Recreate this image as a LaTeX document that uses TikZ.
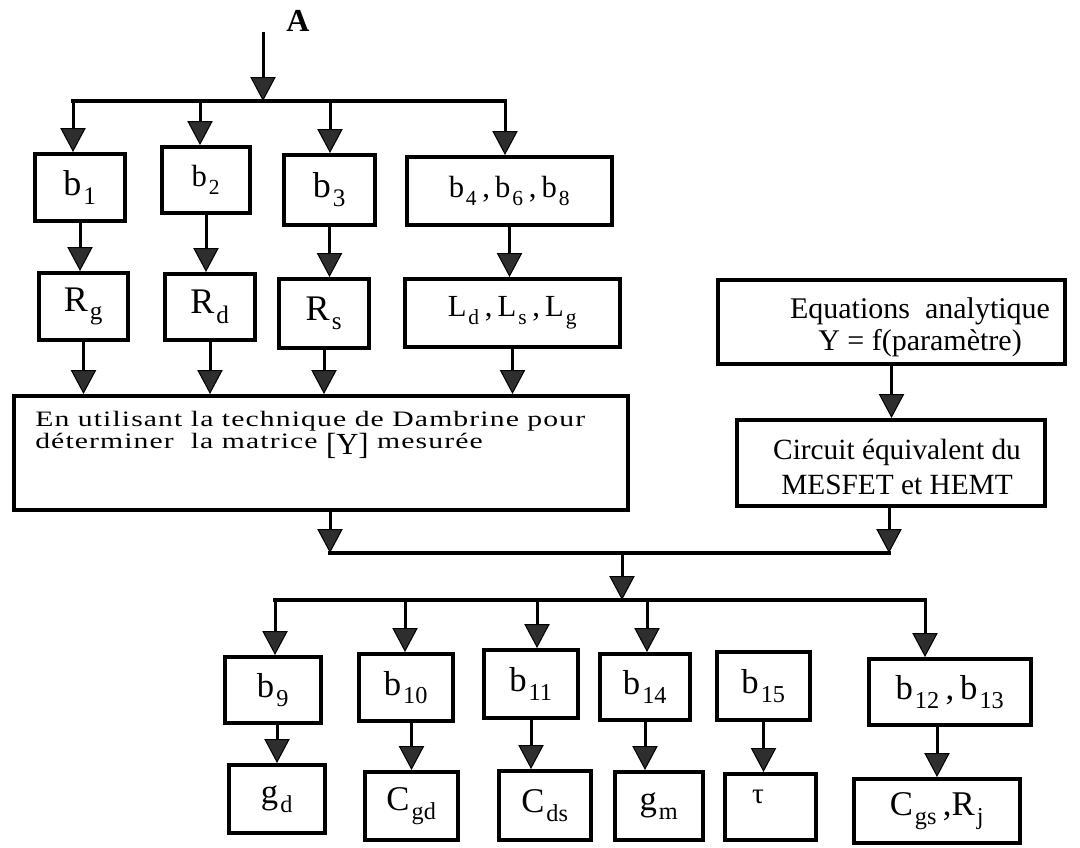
\documentclass[tikz,border=0pt]{standalone}
\usepackage{fontspec}
\setmainfont{Liberation Serif}
\newfontfamily\widefont[FakeStretch=1.35,LetterSpace=5]{Liberation Serif}
\usetikzlibrary{arrows.meta}
\newcommand\sbt[1]{\kern0.06em\raisebox{-0.1em}{\textsubscript{#1}}}
\begin{document}
\begin{tikzpicture}[x=0.75pt,y=-0.75pt,
  box/.style 2 args={draw, line width=3pt, minimum width=#1*0.75pt, minimum height=#2*0.75pt, inner sep=0pt, font=\fontsize{26}{30}\selectfont},
  arr/.style={line width=2.25pt, -{Triangle[length=18pt,width=19pt,fill=black!82,line width=0.8pt]}},
  bus/.style={line width=2.5pt, line cap=rect},
  mid/.style={font=\fontsize{23}{28}\selectfont},
  big/.style={font=\fontsize{27}{30}\selectfont}
]
\useasboundingbox (0,0) rectangle (1080,847);
\fill[white] (0,0) rectangle (1080,847);

% ---------- top row ----------
\node[font=\bfseries\fontsize{24}{24}\selectfont, inner sep=0pt] (lblA) at (298,21) {A};

\node[box={90}{67}, big] (b1) at (80,187.5) {b\sbt{1}};
\node[box={88}{66}, font=\fontsize{23}{28}\selectfont] (b2) at (206,180) {\raisebox{4pt}{b\sbt{2}}};
\node[box={91}{70}, big] (b3) at (329.5,190) {b\sbt{3}};
\node[box={205}{68}, mid] (b468) at (509.5,191) {b\sbt{4}\,,\,b\sbt{6}\,,\,b\sbt{8}};

\node[box={89}{67}, big] (Rg) at (83.5,306.5) {R\sbt{g}};
\node[box={90}{66}, big] (Rd) at (210,307) {R\sbt{d}};
\node[box={90}{69}, big] (Rs) at (324,313.5) {R\sbt{s}};
\node[box={215}{68}, mid] (Lx) at (512.5,313) {L\sbt{d}\,,\,L\sbt{s}\,,\,L\sbt{g}};

\node[box={614}{114}] (bigbox) at (321,453) {};
\node[anchor=north west, inner sep=0pt, align=left, font=\widefont\fontsize{16.5}{16.5}\selectfont] (bigtxt) at (35,411)
  {En utilisant la technique de Dambrine pour\\
   déterminer\ \ la matrice \raisebox{-4.5pt}{\normalfont\fontsize{23}{23}\selectfont[Y]} mesurée};

\node[box={347}{84}] (eq) at (891.5,322) {};
\node[align=center, inner sep=0pt, font=\fontsize{22.5}{24}\selectfont] (eqtxt) at (920,327)
  {Equations\ \ analytique\\ Y = f(paramètre)};
\node[box={308}{86}] (circ) at (891,463) {};
\node[align=center, inner sep=0pt, font=\fontsize{22}{26}\selectfont] (circtxt) at (897,467)
  {Circuit équivalent du\\ MESFET et HEMT};

% ---------- bottom rows ----------
\node[box={96}{66}] (b9) at (273,690) {b\sbt{9}};
\node[box={94}{67}] (b10) at (406,687.5) {b\sbt{10}};
\node[box={94}{68}] (b11) at (531,684) {b\sbt{11}};
\node[box={90}{66}] (b14) at (645,687) {b\sbt{14}};
\node[box={93}{68}] (b15) at (763.5,686) {b\sbt{15}};
\node[box={162}{66}] (b1213) at (950,692) {b\sbt{12}\,,\,b\sbt{13}};

\node[box={96}{68}] (gd) at (277,799) {g\sbt{d}};
\node[box={93}{68}] (Cgd) at (411.5,806) {C\sbt{gd}};
\node[box={92}{69}] (Cds) at (545,805.5) {C\sbt{ds}};
\node[box={88}{68}] (gm) at (659,806) {g\sbt{m}};
\node[box={91}{66}] (tau) at (770.5,807) {};
\node[inner sep=0pt, font=\fontsize{22}{22}\selectfont] (tautxt) at (758,797) {τ};
\node[box={166}{64}] (CR) at (937,811) {C\sbt{gs}\,,R\sbt{j}};

% ---------- connectors: top ----------
\coordinate (Atop) at (263,32);
\coordinate (Abus) at (263,101);
\coordinate (t1) at (73,101);
\coordinate (t2) at (200,101);
\coordinate (t3) at (330,101);
\coordinate (t4) at (505,101);
\draw[bus] (t1) -- (t4);
\draw[arr] (Atop) -- (Abus);
\draw[arr] (t1) -- (t1 |- b1.north);
\draw[arr] (t2) -- (t2 |- b2.north);
\draw[arr] (t3) -- (t3 |- b3.north);
\draw[arr] (t4) -- (t4 |- b468.north);

\draw[arr] (b1.south) -- (b1.south |- Rg.north);
\draw[arr] (b2.south) -- (b2.south |- Rd.north);
\draw[arr] (b3.south) -- (b3.south |- Rs.north);
\draw[arr] (b468.south) -- (b468.south |- Lx.north);

\draw[arr] (Rg.south) -- (Rg.south |- bigbox.north);
\draw[arr] (Rd.south) -- (Rd.south |- bigbox.north);
\draw[arr] (Rs.south) -- (Rs.south |- bigbox.north);
\draw[arr] (Lx.south) -- (Lx.south |- bigbox.north);

\draw[arr] (eq.south) -- (eq.south |- circ.north);

% ---------- connectors: middle ----------
\coordinate (m1) at (330,553);
\coordinate (m2) at (889,553);
\coordinate (mc) at (622,553);
\coordinate (mb) at (622,600);
\draw[bus] (m1) -- (m2);
\draw[arr] (bigbox.south -| m1) -- (m1);
\draw[arr] (circ.south -| m2) -- (m2);
\draw[arr] (mc) -- (mb);

% ---------- connectors: bottom ----------
\coordinate (e1) at (275,600);
\coordinate (e2) at (405,600);
\coordinate (e3) at (537,600);
\coordinate (e4) at (647,600);
\coordinate (e5) at (925,600);
\draw[bus] (e1) -- (e5);
\draw[arr] (e1) -- (e1 |- b9.north);
\draw[arr] (e2) -- (e2 |- b10.north);
\draw[arr] (e3) -- (e3 |- b11.north);
\draw[arr] (e4) -- (e4 |- b14.north);
\draw[arr] (e5) -- (e5 |- b1213.north);

\draw[arr] (gd.north |- b9.south) -- (gd.north);
\draw[arr] (Cgd.north |- b10.south) -- (Cgd.north);
\draw[arr] (b11.south) -- (b11.south |- Cds.north);
\draw[arr] (b14.south) -- (b14.south |- gm.north);
\draw[arr] (b15.south) -- (b15.south |- tau.north);
\draw[arr] (CR.north |- b1213.south) -- (CR.north);
\end{tikzpicture}
\end{document}
